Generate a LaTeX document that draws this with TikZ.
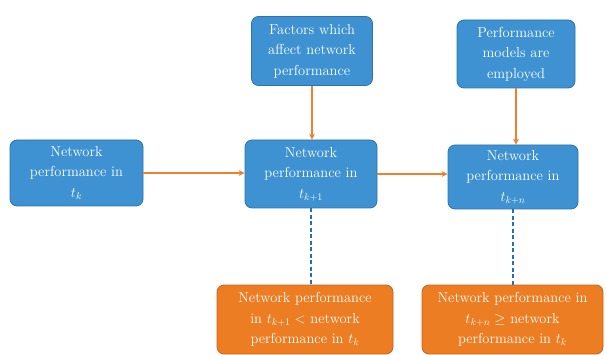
\documentclass[tikz,border=0pt]{standalone}
\usetikzlibrary{arrows.meta}
\definecolor{boxblue}{RGB}{62,146,210}
\definecolor{blueedge}{RGB}{45,115,175}
\definecolor{boxorange}{RGB}{236,125,35}
\definecolor{orangeedge}{RGB}{200,100,25}
\definecolor{linkorange}{RGB}{237,130,45}
\definecolor{dashblue}{RGB}{40,110,190}
\tikzset{
  bluebox/.style={draw=blueedge, line width=0.8pt, fill=boxblue, rounded corners=7pt, text=white, align=center, inner sep=2pt, font=\fontsize{14.5}{20.5}\selectfont},
  orangebox/.style={draw=orangeedge, line width=0.8pt, fill=boxorange, rounded corners=7pt, text=white, align=center, inner sep=2pt, font=\fontsize{14.5}{20.5}\selectfont},
  flow/.style={draw=linkorange, line width=1.8pt, -{Stealth[length=6pt,width=6pt]}},
  dashlink/.style={draw=dashblue, line width=1.8pt, dash pattern=on 4pt off 2.5pt}
}
\begin{document}
\begin{tikzpicture}[x=1pt,y=-1pt]
\useasboundingbox (0,0) rectangle (607,355);
\node[bluebox, minimum width=133pt, minimum height=66pt] (A) at (76.5,173) {Network\\performance in\\$t_k$};
\node[bluebox, minimum width=121pt, minimum height=69pt] (F) at (312,51) {Factors which\\affect network\\performance};
\node[bluebox, minimum width=132pt, minimum height=68pt] (B) at (311,174) {Network\\performance in\\$t_{k+1}$};
\node[bluebox, minimum width=118pt, minimum height=68pt] (P) at (516,54) {Performance\\models are\\employed};
\node[bluebox, minimum width=130pt, minimum height=64pt] (C) at (513,177) {Network\\performance in\\$t_{k+n}$};
\node[orangebox, minimum width=176pt, minimum height=69pt] (O1) at (305,319.5) {Network performance\\in $t_{k+1}<$ network\\performance in $t_k$};
\node[orangebox, minimum width=181pt, minimum height=69pt] (O2) at (512.5,319.5) {Network performance in\\$t_{k+n}\geq$ network\\performance in $t_k$};
\draw[flow] (A.east) -- (A.east -| B.west);
\draw[flow] (B.east) -- (B.east -| C.west);
\draw[flow] (F.south) -- (F.south |- B.north);
\draw[flow] (P.south) -- (P.south |- C.north);
\draw[dashlink] (B.south) -- (B.south |- O1.north);
\draw[dashlink] (C.south) -- (C.south |- O2.north);
\end{tikzpicture}
\end{document}
